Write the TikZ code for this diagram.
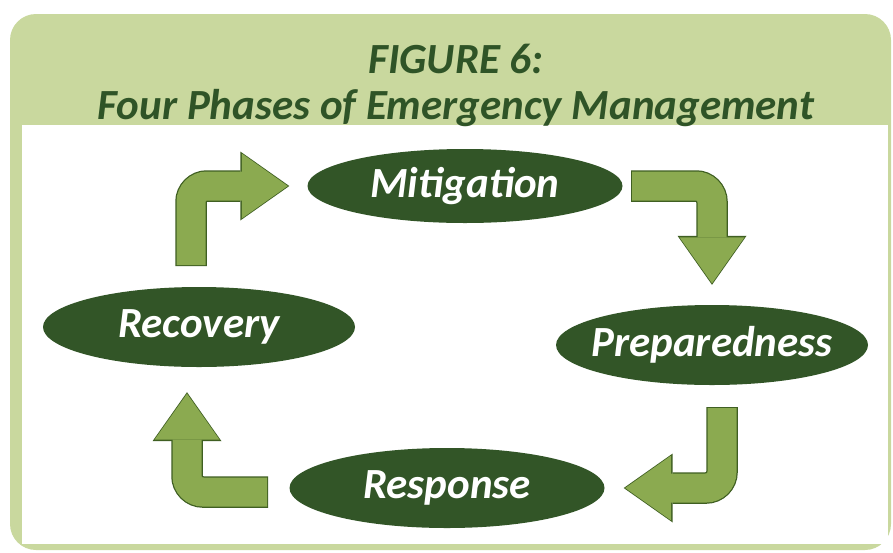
\documentclass[tikz,border=0pt]{standalone}
\usepackage{fontspec}
\setmainfont{Carlito}
\usetikzlibrary{arrows.meta,shapes.geometric,calc}
\definecolor{panelgreen}{HTML}{C9D89E}
\definecolor{phasegreen}{HTML}{325527}
\definecolor{arrowgreen}{HTML}{8BAA50}
\definecolor{edgegreen}{HTML}{3F5F22}
\definecolor{titlegreen}{HTML}{2F5427}
\newcommand{\phasename}[1]{\makebox[0pt]{\raisebox{-3pt}{#1}}}

\begin{document}
\begin{tikzpicture}[x=1pt,y=-1pt,
  phase/.style={ellipse,fill=phasegreen,text=white,inner sep=0pt,
    minimum width=312pt,minimum height=80pt,
    font=\fontsize{43}{43}\selectfont\bfseries\itshape},
  bend outline/.style={draw=edgegreen,line width=31.5pt,rounded corners=16pt,
    shorten <=-1pt,-{Triangle[length=49pt,width=69pt,line width=0pt]}},
  bend fill/.style={draw=arrowgreen,line width=29pt,rounded corners=16pt,
    shorten >=1.5pt,-{Triangle[length=46pt,width=65pt,line width=0pt]}}]
  \useasboundingbox (0,0) rectangle (893,552);
  \fill[panelgreen,rounded corners=26pt] (10,14) rectangle (891,550);
  \fill[white] (22,125) rectangle (888,544);
  \node[align=center,text=titlegreen,font=\fontsize{43}{46}\selectfont\bfseries\itshape]
    (title) at (456,85) {FIGURE 6:\\Four Phases of Emergency Management};

  \node[phase,minimum width=315pt,minimum height=74pt] (mit) at (465,186) {\phasename{Mitigation}};
  \node[phase] (prep) at (712,345) {\phasename{Preparedness}};
  \node[phase,minimum width=315pt] (resp) at (447,488) {\phasename{Response}};
  \node[phase] (recov) at (199,327) {\phasename{Recovery}};

  \coordinate (s1) at (191,265);
  \coordinate (s2) at (632,186);
  \coordinate (s3) at (722,408);
  \coordinate (s4) at (267,492);
  \coordinate (t1) at ($(mit.west)+(-18,0)$);
  \coordinate (t2) at ($(prep.north)+(0,-20)$);
  \coordinate (t3) at ($(resp.east)+(19,0)$);
  \coordinate (t4) at ($(recov.south)+(-12,25)$);

  \foreach \look in {bend outline,bend fill}{
    \draw[\look] (s1) |- (t1);
    \draw[\look] (s2) -| (t2);
    \draw[\look] (s3) |- (t3);
    \draw[\look] (s4) -| (t4);
  }
\end{tikzpicture}
\end{document}
